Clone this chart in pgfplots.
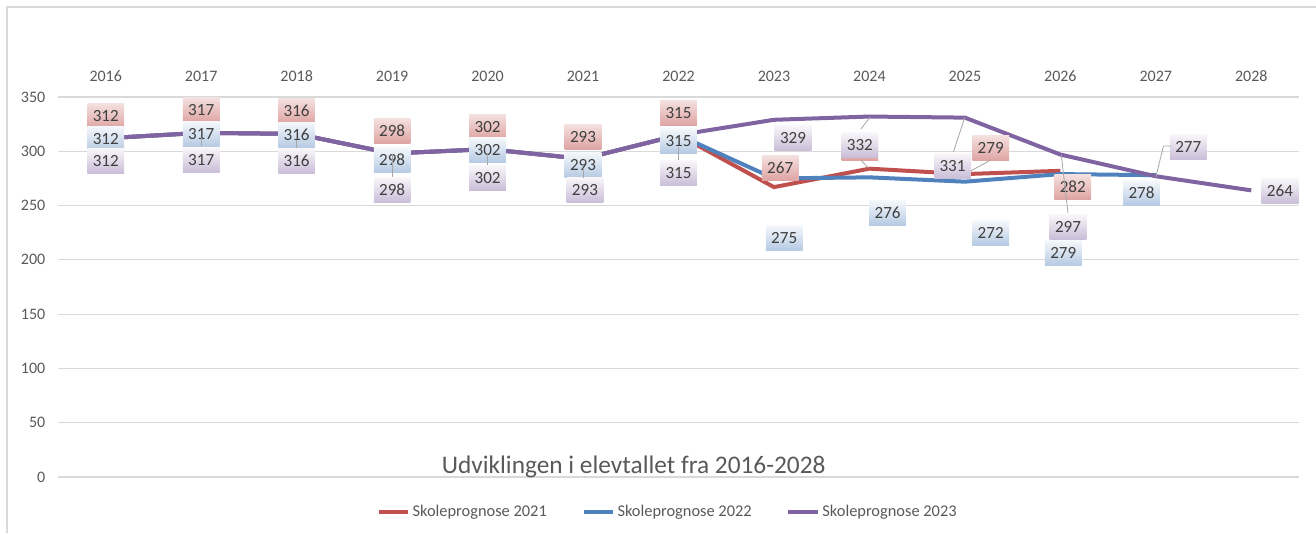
\documentclass[border=0pt]{standalone}
\usepackage{fontspec}
\setmainfont{Carlito}
\usepackage{pgfplots}
\pgfplotsset{compat=1.18}
\definecolor{cred}{HTML}{C0504D}
\definecolor{cblue}{HTML}{4F81BD}
\definecolor{cpurp}{HTML}{8064A2}
\definecolor{txt}{HTML}{595959}
\definecolor{txtd}{HTML}{404040}
\definecolor{gridc}{HTML}{D9D9D9}
\definecolor{leadc}{HTML}{A6A6A6}
\tikzset{
  lblbase/.style={minimum width=27.5pt, minimum height=18.5pt, inner sep=0pt, text=txtd, font=\fontsize{12.8}{13}\selectfont},
  lblr/.style={lblbase, top color=cred!18!white, bottom color=cred!52!white},
  lblb/.style={lblbase, top color=cblue!6!white, bottom color=cblue!42!white},
  lblp/.style={lblbase, top color=cpurp!6!white, bottom color=cpurp!42!white},
}
\newcommand{\lab}[4]{\node[lbl#1] at (axis cs:#2,#3) {#4};}
\begin{document}
\begin{tikzpicture}
\path[use as bounding box] (0,0) rectangle (987pt,399.75pt);
\draw[gridc, line width=0.9pt] (5.25pt,0) -- (5.25pt,394.5pt) -- (987pt,394.5pt);
\begin{axis}[
  at={(43.5pt,42pt)}, anchor=south west, scale only axis,
  width=930.75pt, height=285pt,
  xmin=-0.5, xmax=12.5, ymin=0, ymax=350,
  xtick={0,1,2,3,4,5,6,7,8,9,10,11,12},
  xticklabels={2016,2017,2018,2019,2020,2021,2022,2023,2024,2025,2026,2027,2028},
  xticklabel pos=upper,
  ytick={0,50,100,150,200,250,300,350},
  ymajorgrids, grid style={gridc, line width=0.9pt},
  axis line style={draw=none},
  major tick length=0pt,
  tick label style={font=\fontsize{12}{13}\selectfont, text=txt},
  xticklabel style={yshift=8pt},
  yticklabel style={xshift=-6pt},
  /pgf/number format/assume math mode=true,
  clip=false,
  legend style={at={(0.4915,-0.092)}, anchor=center, draw=none, fill=none,
    legend columns=3, font=\fontsize{12.3}{13}\selectfont, text=txt,
    /tikz/every even column/.append style={column sep=24pt},
    inner sep=0pt},
  legend image code/.code={\draw[#1, line width=3pt] (0pt,0pt) -- (22pt,0pt);},
]
\addplot[cred, line width=3pt, line join=round] coordinates {
 (0,312) (1,317) (2,316) (3,298) (4,302) (5,293) (6,315) (7,267) (8,284) (9,279) (10,282)};
\addlegendentry{Skoleprognose 2021}
\addplot[cblue, line width=3pt, line join=round] coordinates {
 (0,312) (1,317) (2,316) (3,298) (4,302) (5,293) (6,315) (7,275) (8,276) (9,272) (10,279) (11,278)};
\addlegendentry{Skoleprognose 2022}
\addplot[cpurp, line width=3pt, line join=round] coordinates {
 (0,312) (1,317) (2,316) (3,298) (4,302) (5,293) (6,315) (7,329) (8,332) (9,331) (10,297) (11,277) (12,264)};
\addlegendentry{Skoleprognose 2023}

\node[anchor=base, font=\fontsize{19}{19}\selectfont, text=txt] at (axis cs:5.53,2.8) {Udviklingen i elevtallet fra 2016-2028};

% red labels
\lab{r}{0}{332.5}{312}
\lab{r}{1}{338}{317}
\lab{r}{2}{337.1}{316}
\lab{r}{3}{318.7}{298}
\lab{r}{4}{322.4}{302}
\lab{r}{5}{313.2}{293}
\lab{r}{6}{335.3}{315}
\lab{r}{7.065}{284.6}{267}
\lab{r}{7.90}{303.0}{}
\lab{r}{9.27}{303.0}{279}
\lab{r}{10.13}{267.1}{282}
% blue labels
\lab{b}{0}{311.3}{312}
\lab{b}{1}{315.9}{317}
\lab{b}{2}{315.0}{316}
\lab{b}{3}{292.0}{298}
\lab{b}{4}{301.2}{302}
\lab{b}{5}{287.4}{293}
\lab{b}{6}{309.5}{315}
\lab{b}{7.107}{220.1}{275}
\lab{b}{8.19}{243.2}{276}
\lab{b}{9.27}{224.7}{272}
\lab{b}{10.03}{206.3}{279}
\lab{b}{10.85}{261.6}{278}
% purple labels
\lab{p}{0}{291.1}{312}
\lab{p}{1}{292.0}{317}
\lab{p}{2}{291.1}{316}
\lab{p}{3}{264.3}{298}
\lab{p}{4}{275.4}{302}
\lab{p}{5.02}{264.3}{293}
\lab{p}{6}{280.0}{315}
\lab{p}{7.20}{312.2}{329}
\lab{p}{7.90}{305.8}{332}
\lab{p}{8.87}{286.5}{331}
\lab{p}{10.08}{230.3}{297}
\lab{p}{11.34}{304.0}{277}
\lab{p}{12.30}{263.4}{264}
% leader lines
\draw[leadc, line width=0.6pt] (axis cs:1,312.2) -- (axis cs:1,304.9);
\draw[leadc, line width=0.6pt] (axis cs:2,310.4) -- (axis cs:2,303.0);
\draw[leadc, line width=0.6pt] (axis cs:3,297.5) -- (axis cs:3,276.3);
\draw[leadc, line width=0.6pt] (axis cs:4,298.4) -- (axis cs:4,287.4);
\draw[leadc, line width=0.6pt] (axis cs:5,284.6) -- (axis cs:5,275.4);
\draw[leadc, line width=0.6pt] (axis cs:6,304.0) -- (axis cs:6,292.0);
\draw[leadc, line width=0.6pt] (axis cs:8.01,331.6) -- (axis cs:7.91,320.5);
\draw[leadc, line width=0.6pt] (axis cs:7.99,284.6) -- (axis cs:7.91,292.0);
\draw[leadc, line width=0.6pt] (axis cs:9.0,331.6) -- (axis cs:8.88,299.3);
\draw[leadc, line width=0.6pt] (axis cs:9.06,281.8) -- (axis cs:9.27,292.0);
\draw[leadc, line width=0.6pt] (axis cs:10.01,296.6) -- (axis cs:10.08,243.2);
\draw[leadc, line width=0.6pt] (axis cs:11.0,276.3) -- (axis cs:11.08,304.9) -- (axis cs:11.16,304.9);
\end{axis}
\end{tikzpicture}
\end{document}
